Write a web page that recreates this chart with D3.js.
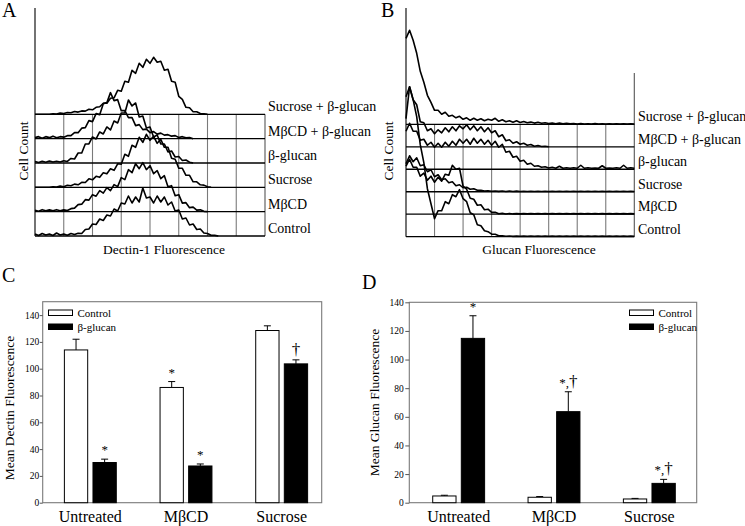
<!DOCTYPE html>
<html><head><meta charset="utf-8">
<script src="https://cdn.jsdelivr.net/npm/d3@7"></script>
<style>
body{margin:0;background:#fff}
svg{display:block}
text{font-family:"Liberation Serif","Times New Roman",serif;fill:#000}
</style>
</head><body>
<svg id="c" width="745" height="526" font-family="Liberation Serif, serif"></svg>
<script>
// ---------- DATA ----------
const laneLabels = ["Sucrose + β-glucan","MβCD + β-glucan","β-glucan","Sucrose","MβCD","Control"];
const channels = d3.range(0, 1025, 16);          // histogram channel bins
const gridChannels = [128,256,384,512,640,768,896];

// Panel A: Dectin-1 fluorescence histograms (cell counts per channel)
const histDectinSucroseGlucan = [0,0,0,0,0,0.5,0.3,1.2,0.8,1.8,1.5,2.8,2.2,3.4,3.2,5,4.5,7,7.5,11,11,16,16.5,24,23,33,32,44,41,51,47,55,51,57,52,53,44,45,33,32,18,15,7,6.5,2.5,2.5,0.8,0.5,0];
const histDectinMbcdGlucan = [1,2,0.5,2,1,2.5,0.8,2,1.5,3,3,6,6,10.5,11,18,17,25,24,35,36,46,38,39,28,28,21,21,13,14,9,9.5,6,7,4.5,5.5,3.5,4,2.5,3,1.2,2,0.8,1.2,0];
const histDectinGlucan = [1.5,0.5,1.8,0.8,2,1,1.8,1,2.2,1.5,4.5,4,10,10,19,19,26,24,31,29,36,33,42,40,50,50,63,57,60,46,47,35,36,26,28,19,19,11,12,6,6.5,2.5,3,0.8,0];
const histDectinSucrose = [0,0,0,0,0,0.5,0.3,1.2,0.6,2,1.5,3.2,2.5,5,4.8,8.5,7.5,11,10,14.5,13.5,18.5,17,23.5,23,33,31,42,40,50,45,53,47,51,44,48,40,40,29,28,19,19,12,12,5.5,5.5,2.5,2.2,0.5,0];
const histDectinMbcd = [1.5,0.5,2,1,1.8,0.8,2,1,1.8,1.2,3,3.5,7,7.5,12,11.5,17,15.5,21,18.5,24,21,27,25,34,32,42,39,48,43,49,42,46,38,41,33,36,25,26,16,17,8.5,9,4,4.5,1.5,1.8,0.3,0];
const histDectinControl = [2,0.5,2.5,1,2,0.5,3,1,2,0.8,2.5,1.5,2.8,2.5,6.5,7,12,11.5,17,15.5,21,20,27,25,33,32,40,33,39,34,48,38,39,33,40,34,39,31,34,25,26,17,18,11,12,6.5,7,3,2.5,0.8,0.8,0];

// Panel B: glucan fluorescence histograms
const histGlucanSucroseGlucan = [86,94,84,71,53,42,29,22,14,14,10,12,8,9,6.5,8,5,6.5,4,6,4,5.5,3.5,5,4,6,3,4.5,2.5,3.5,2,3.5,1.8,2.8,1.5,2.2,1.2,2,1,1.5,0.8,1.3,0.5,1.2,0.5,1,0.4,0.8,0.3,0.8,0.3,0.6,0.2,0.7,0.2,0.6,0.2,0.5,0.2,0.5,0.2,0.4,0.2,0.4,0.2];
const histGlucanMbcdGlucan = [50,60,47,42,25,24,16,18,13,17,14,19,15,20,16,21,18,22,17,21,16,20,15,19,14,16,10,12,6,7,3.5,5,2.5,3.5,1.5,2.2,0.6,1.2,0.3,0.6,0];
const histGlucanGlucan = [38,46,38,38,29,30,24,27,22,26,22,27,23,28,24,30,26,30,25,31,26,30,25,29,24,28,22,25,17,18,12,13,8,9,5,6,3,3.5,2,2.5,1.2,2,1,3,1,1.5,1,1.5,1,4,1,1.5,1,1.2,1,3.5,1,1.2,1,1.5,1,4,1,1.5,1];
const histGlucanSucrose = [28,36,30,34,26,27,20,22,15,17,12,13,9,10,6,7,4,4.5,2.5,3,1.5,1.5,0.8,1,0.5,0.8,0.4,0.7,0.3,0.6,0.3,0.6,0.3,0.5,0.3,0.5,0.3,0.5,0.3,0.5,0.3,0.5,0.3,0.5,0.3,0.5,0.3,0.5,0.3,0.5,0.3,0.5,0.3,0.5,0.3,0.5,0.3,0.5,0.3,0.5,0.3,0.5,0.3,0.5,0.3];
const histGlucanMbcd = [48,55,47,47,38,41,34,38,32,37,33,40,39,49,45,46,28,25,16,15,9,9.5,4.5,5,1.8,2,0.5,1,0.3,0.8,0.3,0.6,0.3,0.6,0.3,0.6,0.3,0.6,0.3,0.6,0.3,0.6,0.3,0.6,0.3,0.6,0.3,0.6,0.3,0.6,0.3,0.6,0.3,0.6,0.3,0.6,0.3,0.6,0.3,0.6,0.3,0.6,0.3,0.6,0.3];
const histGlucanControl = [118,150,137,120,92,74,48,33,18,26,26,35,33,42,40,47,38,35,24,22,12,11,6,5,2.5,2.5,1,1,0.4,0.7,0.3,0.6,0.3,0.6,0.3,0.6,0.3,0.6,0.3,0.6,0.3,0.6,0.3,0.6,0.3,0.6,0.3,0.6,0.3,0.6,0.3,0.6,0.3,0.6,0.3,0.6,0.3,0.6,0.3,0.6,0.3,0.6,0.3,0.6,0.3];

// Panels C & D: bar charts
const groups = ["Untreated","MβCD","Sucrose"];
const seriesNames = ["Control","β-glucan"];
const yTicks = [0,20,40,60,80,100,120,140];

const dectinControlMean = [114, 86, 128.5];
const dectinControlErr  = [8, 4.4, 3.5];
const dectinGlucanMean  = [30, 27.4, 103.6];
const dectinGlucanErr   = [2.5, 1.5, 3];
const dectinControlMarks = ["", "*", ""];
const dectinGlucanMarks  = ["*", "*", "†"];

const glucanControlMean = [4.7, 3.8, 2.6];
const glucanControlErr  = [0.5, 0.5, 0.4];
const glucanGlucanMean  = [114.8, 63.6, 13.5];
const glucanGlucanErr   = [15.8, 13.9, 2.8];
const glucanControlMarks = ["", "", ""];
const glucanGlucanMarks  = ["*", "*,†", "*,†"];

// ---------- DRAW ----------
const svg = d3.select("#c");
const SERIF = "Liberation Serif, Times New Roman, serif";

function drawHist(cfg) {
  const g = svg.append("g");
  const x = d3.scaleLinear().domain([0, 1024]).range([cfg.x0, cfg.x1]);
  const lane = d3.scalePoint().domain(laneLabels).range([cfg.laneTop, cfg.laneBot]);
  const cnt = d3.scaleLinear().domain([0, 100]).range([0, 100]);

  g.selectAll(".vg").data(gridChannels).join("line")
    .attr("x1", d => x(d)).attr("x2", d => x(d))
    .attr("y1", cfg.laneTop).attr("y2", cfg.laneBot)
    .attr("stroke", "#7a7a7a").attr("stroke-width", 1.1);
  g.append("line").attr("x1", x(1024)).attr("x2", x(1024))
    .attr("y1", cfg.rightTop).attr("y2", cfg.laneBot)
    .attr("stroke", "#555").attr("stroke-width", 1.1);

  cfg.curves.forEach((vals, k) => {
    const base = lane(laneLabels[k]);
    const line = d3.line()
      .x((d, i) => x(channels[i]))
      .y(d => base - cnt(d));
    g.append("path").datum(vals).attr("d", line)
      .attr("fill", "none").attr("stroke", "#000")
      .attr("stroke-width", 1.6).attr("stroke-linejoin", "round");
  });

  g.selectAll(".lane").data(laneLabels).join("line")
    .attr("x1", cfg.x0).attr("x2", x(1024))
    .attr("y1", d => lane(d)).attr("y2", d => lane(d))
    .attr("stroke", "#000").attr("stroke-width", 1.3);

  g.append("line").attr("x1", cfg.x0).attr("x2", cfg.x0)
    .attr("y1", cfg.axisTop).attr("y2", cfg.laneBot)
    .attr("stroke", "#000").attr("stroke-width", 1.1);

  g.selectAll(".lbl").data(laneLabels).join("text")
    .attr("x", cfg.labelX).attr("y", d => lane(d) - 3)
    .attr("font-family", SERIF).attr("font-size", 14).text(d => d);

  g.append("text").attr("transform", `translate(${cfg.cellX},151) rotate(-90)`)
    .attr("text-anchor", "middle").attr("font-family", SERIF).attr("font-size", 13.5).text("Cell Count");
  g.append("text").attr("x", cfg.xTitleX).attr("y", 254)
    .attr("text-anchor", "middle").attr("font-family", SERIF).attr("font-size", 13.5).text(cfg.xTitle);
  g.append("text").attr("x", cfg.letterX).attr("y", 16.5)
    .attr("font-family", SERIF).attr("font-size", 20).text(cfg.letter);
}

drawHist({
  x0: 35, x1: 265, laneTop: 114.3, laneBot: 236, rightTop: 114.3, axisTop: 8,
  labelX: 268, cellX: 27.5, xTitleX: 164, xTitle: "Dectin-1 Fluorescence", letterX: 2, letter: "A",
  curves: [histDectinSucroseGlucan, histDectinMbcdGlucan, histDectinGlucan, histDectinSucrose, histDectinMbcd, histDectinControl]
});
drawHist({
  x0: 406, x1: 634.3, laneTop: 124.3, laneBot: 236.7, rightTop: 73, axisTop: 8,
  labelX: 638, cellX: 392.5, xTitleX: 539, xTitle: "Glucan Fluorescence", letterX: 381, letter: "B",
  curves: [histGlucanSucroseGlucan, histGlucanMbcdGlucan, histGlucanGlucan, histGlucanSucrose, histGlucanMbcd, histGlucanControl]
});

function drawBars(cfg) {
  const g = svg.append("g");
  const y = d3.scaleLinear().domain([0, cfg.yMax]).range([cfg.yBottom, cfg.yTop]);
  const xg = d3.scaleBand().domain(groups).range(cfg.bandRange);
  const c = xg.bandwidth() / 2;
  const xs = d3.scaleBand().domain(seriesNames).range([c - 25.95, c + 25.95]).paddingInner(0.185);

  g.append("rect").attr("x", cfg.boxX0).attr("y", cfg.yTop)
    .attr("width", cfg.boxX1 - cfg.boxX0).attr("height", cfg.yBottom - cfg.yTop)
    .attr("fill", "none").attr("stroke", "#7a7a7a").attr("stroke-width", 1.1);

  const ax = g.append("g").attr("transform", `translate(${cfg.boxX0},0)`)
    .call(d3.axisLeft(y).tickValues(yTicks).tickSize(cfg.tickSize).tickPadding(cfg.tickPad));
  ax.select(".domain").remove();
  ax.attr("font-family", SERIF).attr("font-size", 9.5);
  ax.selectAll("text").attr("font-family", SERIF).attr("fill", "#000");
  ax.selectAll("line").attr("stroke", "#555");

  const series = [
    {name: "Control", mean: cfg.ctrlMean, err: cfg.ctrlErr, marks: cfg.ctrlMarks, fill: "#fff"},
    {name: "β-glucan", mean: cfg.glMean, err: cfg.glErr, marks: cfg.glMarks, fill: "#000"}
  ];
  series.forEach(s => {
    groups.forEach((grp, i) => {
      const bx = xg(grp) + xs(s.name);
      const bw = xs.bandwidth();
      const cx = bx + bw / 2;
      const top = y(s.mean[i] + s.err[i]);
      g.append("line").attr("x1", cx).attr("x2", cx)
        .attr("y1", y(s.mean[i])).attr("y2", top).attr("stroke", "#000");
      g.append("line").attr("x1", cx - 3.5).attr("x2", cx + 3.5)
        .attr("y1", top).attr("y2", top).attr("stroke", "#000");
      g.append("rect").attr("x", bx).attr("y", y(s.mean[i]))
        .attr("width", bw).attr("height", y(0) - y(s.mean[i]))
        .attr("fill", s.fill).attr("stroke", "#000").attr("stroke-width", 1);
      const m = s.marks[i];
      if (m) {
        const t = g.append("text").attr("x", cx).attr("y", top - 5)
          .attr("text-anchor", "middle").attr("font-family", SERIF).attr("fill", "#000");
        for (const ch of m) {
          t.append("tspan").attr("font-size", ch === "†" ? 17 : 13).text(ch);
        }
      }
    });
  });

  groups.forEach(grp => {
    g.append("text").attr("x", xg(grp) + c).attr("y", 521.7)
      .attr("text-anchor", "middle").attr("font-family", SERIF).attr("font-size", 16).text(grp);
  });

  // legend
  series.forEach((s, k) => {
    g.append("rect").attr("x", cfg.legX).attr("y", 310 + k * 14)
      .attr("width", 24).attr("height", 5.5)
      .attr("fill", s.fill).attr("stroke", "#000");
    g.append("text").attr("x", cfg.legX + 29).attr("y", 316.5 + k * 14)
      .attr("font-family", SERIF).attr("font-size", 11).text(s.name);
  });

  g.append("text").attr("transform", `translate(${cfg.titleX},${cfg.titleY}) rotate(-90)`)
    .attr("text-anchor", "middle").attr("font-family", SERIF).attr("font-size", 13.5).text(cfg.title);
  g.append("text").attr("x", cfg.letterX).attr("y", cfg.letterY)
    .attr("font-family", SERIF).attr("font-size", 20).text(cfg.letter);
}

drawBars({
  yMax: 150, yBottom: 502.7, yTop: 301.7, bandRange: [42.5, 329.5],
  boxX0: 42.7, boxX1: 321.7, tickSize: 3, tickPad: 0.5,
  ctrlMean: dectinControlMean, ctrlErr: dectinControlErr, ctrlMarks: dectinControlMarks,
  glMean: dectinGlucanMean, glErr: dectinGlucanErr, glMarks: dectinGlucanMarks,
  legX: 48.5, title: "Mean Dectin Fluorescence", titleX: 14, titleY: 408,
  letter: "C", letterX: 2, letterY: 281.5
});
drawBars({
  yMax: 140, yBottom: 502.7, yTop: 302.3, bandRange: [411, 697],
  boxX0: 409.3, boxX1: 696.7, tickSize: 4, tickPad: 1.5,
  ctrlMean: glucanControlMean, ctrlErr: glucanControlErr, ctrlMarks: glucanControlMarks,
  glMean: glucanGlucanMean, glErr: glucanGlucanErr, glMarks: glucanGlucanMarks,
  legX: 629.5, title: "Mean Glucan Fluorescence", titleX: 379, titleY: 402.5,
  letter: "D", letterX: 362, letterY: 289
});
</script>
</body></html>
